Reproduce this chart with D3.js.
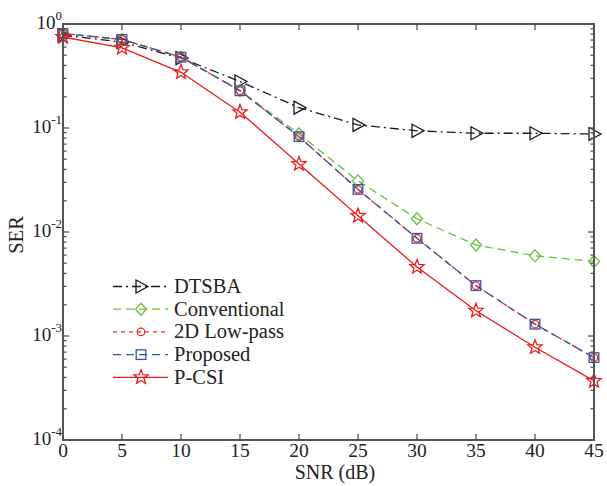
<!DOCTYPE html>
<html>
<head>
<meta charset="utf-8">
<script src="https://cdn.jsdelivr.net/npm/d3@7"></script>
<style>
  body { margin: 0; background: #fff; }
  svg { font-family: "Liberation Serif", "DejaVu Serif", serif; }
</style>
</head>
<body>
<svg id="chart" width="607" height="486"></svg>
<script>
// SNR points (dB)
const snr = [0, 5, 10, 15, 20, 25, 30, 35, 40, 45];

// SER values
const dtsba        = [0.78, 0.67, 0.47, 0.28, 0.157, 0.107, 0.094, 0.089, 0.089, 0.0875];
const conventional = [0.81, 0.71, 0.48, 0.23, 0.0875, 0.031, 0.0134, 0.0075, 0.0059, 0.0052];
const lowpass      = [0.81, 0.71, 0.48, 0.228, 0.0826, 0.0257, 0.0087, 0.00305, 0.0013, 0.00062];
const proposed     = [0.81, 0.71, 0.48, 0.228, 0.0826, 0.0257, 0.0087, 0.00305, 0.0013, 0.00062];
const pcsi         = [0.75, 0.59, 0.343, 0.142, 0.045, 0.0143, 0.0046, 0.00175, 0.00078, 0.00037];

const xTicks = [0, 5, 10, 15, 20, 25, 30, 35, 40, 45];
const yDecades = [0, -1, -2, -3, -4];

const series = [
  { name: "DTSBA",        values: dtsba,        color: "#1a1a1a", dash: "9,4,2,4", marker: "tri" },
  { name: "Conventional", values: conventional, color: "#66c23c", dash: "8,5",     marker: "diamond" },
  { name: "2D Low-pass",  values: lowpass,      color: "#ee2a2a", dash: "4,4",     marker: "circle" },
  { name: "Proposed",     values: proposed,     color: "#3852a8", dash: "8,5",     marker: "square" },
  { name: "P-CSI",        values: pcsi,         color: "#ee1c1c", dash: null,      marker: "star" }
];

const svg = d3.select("#chart");
const mLeft = 63, mRight = 594, mTop = 24, mBottom = 440;
const axisColor = "#555";

const x = d3.scaleLinear().domain([0, 45]).range([mLeft, mRight]);
const y = d3.scaleLog().domain([1e-4, 1]).range([mBottom, mTop]);

// star path
function starPath(R, r) {
  let p = "";
  for (let i = 0; i < 10; i++) {
    const a = -Math.PI / 2 + i * Math.PI / 5;
    const rr = i % 2 === 0 ? R : r;
    p += (i ? "L" : "M") + (rr * Math.cos(a)).toFixed(2) + "," + (rr * Math.sin(a)).toFixed(2);
  }
  return p + "Z";
}

function drawMarker(g, type, color) {
  if (type === "tri") {
    g.append("path").attr("d", "M-5,-6.5L7,0L-5,6.5Z");
  } else if (type === "diamond") {
    g.append("path").attr("d", "M0,-6L5.5,0L0,6L-5.5,0Z");
  } else if (type === "circle") {
    g.append("circle").attr("r", 3.8);
  } else if (type === "square") {
    g.append("rect").attr("x", -4.8).attr("y", -4.8).attr("width", 9.6).attr("height", 9.6);
  } else if (type === "star") {
    g.append("path").attr("d", starPath(7.5, 3.2));
  }
  g.selectAll("*").attr("fill", "none").attr("stroke", color).attr("stroke-width", 1.3);
}

// lines + markers
const line = d3.line().x((d, i) => x(snr[i])).y(d => y(d));
series.forEach(s => {
  svg.append("path")
    .datum(s.values)
    .attr("d", line)
    .attr("fill", "none")
    .attr("stroke", s.color)
    .attr("stroke-width", 1.3)
    .attr("stroke-dasharray", s.dash);
  s.values.forEach((v, i) => {
    const g = svg.append("g").attr("transform", `translate(${x(snr[i])},${y(v)})`);
    drawMarker(g, s.marker, s.color);
  });
});

// axes box
const ax = svg.append("g");
ax.append("rect")
  .attr("x", mLeft).attr("y", mTop)
  .attr("width", mRight - mLeft).attr("height", mBottom - mTop)
  .attr("fill", "none").attr("stroke", axisColor).attr("stroke-width", 2);

// x ticks (inward on bottom and top)
xTicks.forEach(t => {
  ax.append("line").attr("x1", x(t)).attr("x2", x(t)).attr("y1", mBottom).attr("y2", mBottom - 6)
    .attr("stroke", axisColor).attr("stroke-width", 1.3);
  ax.append("line").attr("x1", x(t)).attr("x2", x(t)).attr("y1", mTop).attr("y2", mTop + 6)
    .attr("stroke", axisColor).attr("stroke-width", 1.3);
  ax.append("text").attr("x", x(t)).attr("y", mBottom + 17)
    .attr("text-anchor", "middle").attr("font-size", 19.5).attr("fill", "#222").text(t);
});

// y ticks: majors and minors on left and right
y.ticks().forEach(v => {
  const lg = Math.log10(v);
  const major = Math.abs(lg - Math.round(lg)) < 1e-9;
  const len = major ? 6 : 3.5;
  [[mLeft, mLeft + len], [mRight, mRight - len]].forEach(([a, b]) => {
    ax.append("line").attr("x1", a).attr("x2", b).attr("y1", y(v)).attr("y2", y(v))
      .attr("stroke", axisColor).attr("stroke-width", 1.3);
  });
});

yDecades.forEach(e => {
  const t = ax.append("text")
    .attr("x", mLeft - 1).attr("y", y(Math.pow(10, e)) + 5)
    .attr("text-anchor", "end").attr("font-size", 19).attr("fill", "#222");
  t.append("tspan").text("10");
  t.append("tspan").attr("dy", -9).attr("font-size", 13).text(e === 0 ? "0" : "-" + (-e));
});

// axis titles
svg.append("text").attr("x", 335).attr("y", 479)
  .attr("text-anchor", "middle").attr("font-size", 20).attr("fill", "#222").text("SNR (dB)");
svg.append("text").attr("transform", `translate(23,235) rotate(-90)`)
  .attr("text-anchor", "middle").attr("font-size", 20.5).attr("fill", "#222").text("SER");

// legend
const leg = svg.append("g");
series.forEach((s, i) => {
  const ly = 286.5 + i * 22.7;
  leg.append("line").attr("x1", 113).attr("x2", 168).attr("y1", ly).attr("y2", ly)
    .attr("stroke", s.color).attr("stroke-width", 1.3).attr("stroke-dasharray", s.dash);
  const g = leg.append("g").attr("transform", `translate(141,${ly})`);
  drawMarker(g, s.marker, s.color);
  leg.append("text").attr("x", 174).attr("y", ly + 6.5)
    .attr("font-size", 20.5).attr("fill", "#222").text(s.name);
});
</script>
</body>
</html>
